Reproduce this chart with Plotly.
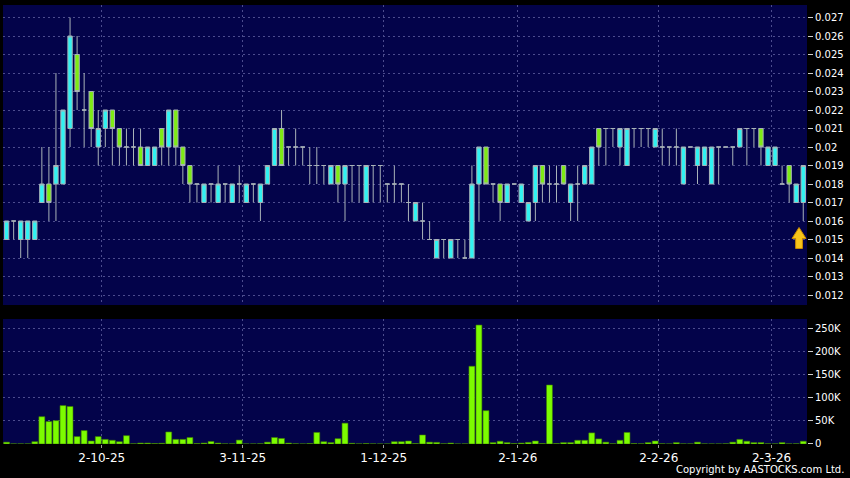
import plotly.graph_objects as go

# ---------------- data (prices in HKD, volume in shares) ----------------
opens = [0.015, 0.016, 0.015, 0.015, 0.015, 0.017, 0.018, 0.018, 0.018, 0.021,
         0.025, 0.022, 0.023, 0.020, 0.021, 0.022, 0.021, 0.020, 0.020, 0.020,
         0.019, 0.019, 0.021, 0.020, 0.022, 0.020, 0.019, 0.018, 0.017, 0.018,
         0.017, 0.018, 0.017, 0.018, 0.017, 0.018, 0.017, 0.018, 0.019, 0.021,
         0.020, 0.020, 0.020, 0.019, 0.019, 0.019, 0.018, 0.019, 0.018, 0.019,
         0.019, 0.017, 0.019, 0.019, 0.018, 0.018, 0.018, 0.017, 0.016, 0.016,
         0.015, 0.014, 0.015, 0.014, 0.015, 0.014, 0.014, 0.018, 0.020, 0.018,
         0.018, 0.017, 0.018, 0.017, 0.016, 0.017, 0.019, 0.018, 0.018, 0.019,
         0.017, 0.018, 0.018, 0.018, 0.021, 0.021, 0.021, 0.020, 0.019, 0.021,
         0.021, 0.021, 0.020, 0.020, 0.020, 0.020, 0.018, 0.020, 0.019, 0.019,
         0.018, 0.020, 0.020, 0.020, 0.020, 0.021, 0.021, 0.021, 0.019, 0.019,
         0.018, 0.019, 0.017, 0.017]
highs = [0.016, 0.016, 0.016, 0.016, 0.016, 0.020, 0.020, 0.024, 0.022, 0.027,
         0.026, 0.024, 0.023, 0.022, 0.022, 0.022, 0.021, 0.021, 0.021, 0.021,
         0.020, 0.020, 0.021, 0.022, 0.022, 0.020, 0.019, 0.018, 0.018, 0.018,
         0.019, 0.018, 0.018, 0.019, 0.018, 0.018, 0.018, 0.019, 0.021, 0.022,
         0.020, 0.021, 0.020, 0.020, 0.020, 0.019, 0.019, 0.019, 0.019, 0.019,
         0.019, 0.019, 0.019, 0.019, 0.018, 0.019, 0.018, 0.018, 0.017, 0.017,
         0.016, 0.015, 0.015, 0.015, 0.015, 0.015, 0.019, 0.020, 0.020, 0.018,
         0.018, 0.018, 0.018, 0.018, 0.017, 0.019, 0.019, 0.019, 0.019, 0.019,
         0.018, 0.019, 0.019, 0.020, 0.021, 0.021, 0.021, 0.021, 0.021, 0.021,
         0.021, 0.021, 0.021, 0.021, 0.020, 0.021, 0.020, 0.020, 0.020, 0.020,
         0.020, 0.020, 0.020, 0.020, 0.021, 0.021, 0.021, 0.021, 0.020, 0.020,
         0.019, 0.019, 0.018, 0.019]
lows = [0.015, 0.015, 0.014, 0.014, 0.015, 0.017, 0.016, 0.016, 0.018, 0.020,
        0.022, 0.020, 0.020, 0.019, 0.020, 0.019, 0.019, 0.019, 0.019, 0.019,
        0.019, 0.019, 0.019, 0.019, 0.019, 0.018, 0.017, 0.017, 0.017, 0.017,
        0.017, 0.017, 0.017, 0.017, 0.017, 0.017, 0.016, 0.018, 0.019, 0.019,
        0.019, 0.019, 0.019, 0.018, 0.018, 0.018, 0.018, 0.017, 0.016, 0.017,
        0.017, 0.017, 0.017, 0.017, 0.017, 0.017, 0.017, 0.016, 0.016, 0.015,
        0.015, 0.014, 0.014, 0.014, 0.014, 0.014, 0.014, 0.016, 0.018, 0.017,
        0.016, 0.017, 0.018, 0.017, 0.016, 0.016, 0.017, 0.017, 0.017, 0.018,
        0.016, 0.016, 0.018, 0.018, 0.019, 0.019, 0.020, 0.019, 0.019, 0.020,
        0.020, 0.020, 0.020, 0.019, 0.019, 0.019, 0.018, 0.020, 0.018, 0.019,
        0.018, 0.018, 0.020, 0.019, 0.020, 0.019, 0.020, 0.019, 0.019, 0.019,
        0.018, 0.017, 0.017, 0.016]
closes = [0.016, 0.016, 0.016, 0.016, 0.016, 0.018, 0.017, 0.019, 0.022, 0.026,
          0.023, 0.022, 0.021, 0.021, 0.022, 0.021, 0.020, 0.020, 0.020, 0.019,
          0.020, 0.020, 0.020, 0.022, 0.020, 0.019, 0.018, 0.018, 0.018, 0.018,
          0.018, 0.018, 0.018, 0.018, 0.018, 0.018, 0.018, 0.019, 0.021, 0.019,
          0.020, 0.020, 0.020, 0.019, 0.019, 0.019, 0.019, 0.018, 0.019, 0.019,
          0.019, 0.019, 0.019, 0.019, 0.018, 0.018, 0.018, 0.017, 0.017, 0.016,
          0.015, 0.015, 0.015, 0.015, 0.015, 0.014, 0.018, 0.020, 0.018, 0.018,
          0.017, 0.018, 0.018, 0.018, 0.017, 0.019, 0.018, 0.018, 0.018, 0.018,
          0.018, 0.018, 0.019, 0.020, 0.020, 0.021, 0.021, 0.021, 0.021, 0.021,
          0.021, 0.021, 0.021, 0.020, 0.020, 0.020, 0.020, 0.020, 0.020, 0.020,
          0.020, 0.020, 0.020, 0.020, 0.021, 0.021, 0.021, 0.020, 0.020, 0.020,
          0.018, 0.018, 0.018, 0.019]
volume = [4000, 300, 300, 300, 5000, 59000, 48500, 50500, 83000, 81000,
          16000, 29000, 6500, 16000, 10000, 8000, 5000, 18000, 500, 2000,
          2000, 1000, 1500, 26000, 10000, 10000, 14000, 1000, 2000, 5500,
          2000, 300, 300, 8500, 200, 200, 500, 4000, 14000, 12000,
          2000, 500, 200, 1000, 25000, 5000, 3000, 11500, 45000, 1500,
          300, 1000, 300, 200, 200, 5000, 5000, 6500, 1000, 19500,
          4000, 3500, 500, 2000, 200, 300, 168000, 257000, 72000, 3000,
          6000, 3000, 1000, 2000, 3500, 6500, 1000, 127500, 1000, 3000,
          3000, 8000, 8000, 24000, 11000, 4000, 500, 8000, 25000, 1000,
          500, 3000, 6500, 500, 200, 3000, 300, 300, 4000, 300,
          200, 200, 500, 4000, 10000, 6000, 3000, 3000, 500, 300,
          3000, 300, 500, 6000]

# date tick labels and their trading-day positions
date_labels = ["2-10-25", "3-11-25", "1-12-25", "2-1-26", "2-2-26", "2-3-26"]
date_pos = [13.5, 33.5, 53.5, 72.5, 92.5, 108.5]

price_ticks = [0.012, 0.013, 0.014, 0.015, 0.016, 0.017, 0.018, 0.019,
               0.020, 0.021, 0.022, 0.023, 0.024, 0.025, 0.026, 0.027]
price_labels = ["0.012", "0.013", "0.014", "0.015", "0.016", "0.017", "0.018", "0.019",
                "0.02", "0.021", "0.022", "0.023", "0.024", "0.025", "0.026", "0.027"]
vol_ticks = [0, 50000, 100000, 150000, 200000, 250000]
vol_labels = ["0", "50K", "100K", "150K", "200K", "250K"]

idx = list(range(len(opens)))

# ---------------- figure ----------------
GRID = "#4C4C8E"
DASH = "2px,3px"
BG = "#03034A"

fig = go.Figure()
fig.add_trace(go.Candlestick(
    x=idx, open=opens, high=highs, low=lows, close=closes,
    increasing=dict(fillcolor="#30F2F2", line=dict(color="#A9B3B8", width=1)),
    decreasing=dict(fillcolor="#7EEB14", line=dict(color="#A9B3B8", width=1)),
    whiskerwidth=0, xaxis="x", yaxis="y", showlegend=False, hoverinfo="skip"))

fig.add_trace(go.Bar(
    x=idx, y=volume, width=0.84,
    marker=dict(color="#7CFC00", line=dict(color="#3E7E00", width=0.6)),
    xaxis="x2", yaxis="y2", showlegend=False, hoverinfo="skip"))

axis_common = dict(showgrid=True, gridcolor=GRID, griddash=DASH, gridwidth=1,
                   zeroline=False, showline=False)

fig.update_layout(
    width=850, height=478,
    margin=dict(l=3, r=43, t=5, b=34),
    paper_bgcolor="black", plot_bgcolor=BG,
    boxgap=0.12, bargap=0.15,
    font=dict(family="DejaVu Sans", color="white", size=10),
    xaxis=dict(domain=[0, 1], anchor="y", range=[-0.51, 113.53],
               rangeslider=dict(visible=False), tickvals=date_pos,
               showticklabels=False, ticks="", **axis_common),
    xaxis2=dict(domain=[0, 1], anchor="y2", matches="x", tickvals=date_pos,
                ticktext=date_labels, ticks="outside", ticklen=3, tickcolor="#9A9A9A",
                tickfont=dict(size=12, color="white"), **axis_common),
    yaxis=dict(domain=[0.3166, 1], anchor="x", side="right",
               range=[0.011459, 0.027677], tickvals=price_ticks, ticktext=price_labels,
               ticks="outside", ticklen=5, tickcolor="#D0D0D0",
               tickfont=dict(size=10, color="white"), **axis_common),
    yaxis2=dict(domain=[0, 0.2847], anchor="x2", side="right",
                range=[0, 270000], tickvals=vol_ticks, ticktext=vol_labels,
                ticks="outside", ticklen=5, tickcolor="#D0D0D0",
                tickfont=dict(size=10, color="white"), **axis_common),
)

# last-price marker: block arrow drawn in pixels, anchored just below the last bar
fig.add_shape(type="path", xref="x", yref="y",
              xsizemode="pixel", ysizemode="pixel",
              xanchor=idx[-1] - 0.6, yanchor=lows[-1] - 0.00035,
              path="M 0,0 L 7,-11 L 3.4,-11 L 3.4,-21 L -3.4,-21 L -3.4,-11 L -7,-11 Z",
              fillcolor="#F7C51A", line=dict(color="#C88A00", width=1), layer="above")

fig.add_annotation(x=1.0485, y=-0.059, xref="paper", yref="paper",
                   xanchor="right", yanchor="middle", showarrow=False,
                   text="Copyright by AASTOCKS.com Ltd.",
                   font=dict(size=10, color="white", family="DejaVu Sans"))

fig.write_html("out.html", config={"displayModeBar": False},
               post_script="document.body.style.margin='0';document.body.style.background='black';")
